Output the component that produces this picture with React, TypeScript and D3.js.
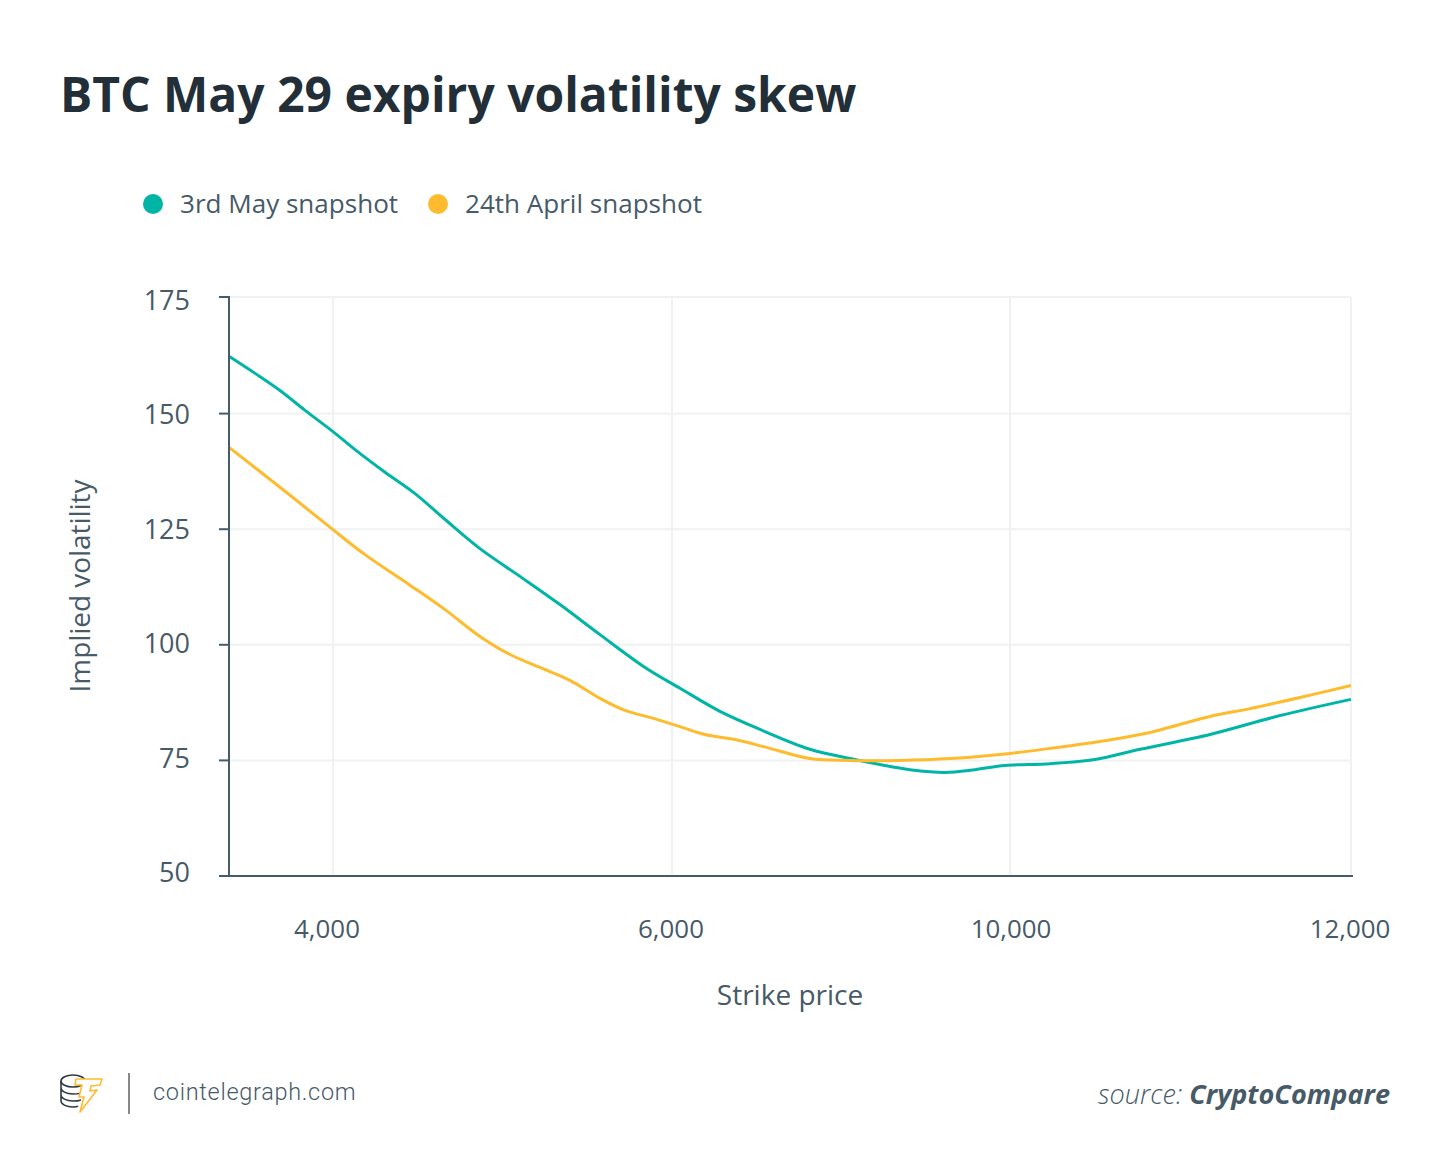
import React from "react";
import * as d3 from "d3";

const title = "BTC May 29 expiry volatility skew";
const seriesNames = ["3rd May snapshot", "24th April snapshot"];
const seriesColors = ["#00b5a6", "#fdbb2d"];
const xTicks = [4000, 6000, 10000, 12000];
const xLabelNudge = [-6, -1, 1, -1];
const yTicks = [50, 75, 100, 125, 150, 175];

const mayStrikes = [3386, 3540, 3687, 3835, 4000, 4130, 4307, 4484, 4661, 4867, 5103, 5339, 5575, 5841, 6095, 6568, 7041, 7633, 8106, 8461, 8816, 9230, 9586, 9941, 10235, 10499, 10762, 11173, 11584, 12000];
const mayValues = [162.4, 158.7, 155.0, 150.7, 146.1, 142.2, 137.3, 132.7, 127.1, 120.8, 114.8, 108.7, 102.2, 95.1, 90.6, 85.6, 81.7, 77.4, 75.4, 74.1, 73.0, 72.4, 73.0, 73.9, 74.3, 75.2, 77.4, 80.6, 84.7, 88.2];
const aprStrikes = [3386, 3540, 3717, 4000, 4189, 4454, 4661, 4867, 5044, 5221, 5398, 5575, 5723, 5870, 6095, 6390, 6745, 7159, 7633, 8106, 8698, 9290, 10000, 10235, 10528, 10792, 11173, 11408, 11701, 12000];
const aprValues = [142.7, 138.3, 133.2, 124.9, 119.5, 112.9, 107.6, 101.8, 97.9, 95.1, 92.3, 88.4, 85.8, 84.3, 82.3, 80.6, 79.5, 77.6, 75.4, 75.0, 75.0, 75.4, 76.5, 77.6, 79.1, 80.8, 84.5, 86.2, 88.6, 91.2];

const FONT = "'Open Sans', sans-serif";
const TEXT = "#475a68";
const AXIS = "#465c69";
const GRID = "#f0f1f2";

export default function App() {
  const x = d3.scaleLinear().domain([3386, 4000, 6000, 10000, 12000]).range([229, 333, 672, 1010, 1351]);
  const y = d3.scaleLinear().domain([50, 175]).range([876, 298]);
  const yLabel = d3.scaleLinear().domain([50, 175]).range([882, 310]);
  const line = d3
    .line<[number, number]>()
    .x((d) => x(d[0]))
    .y((d) => y(d[1]))
    .curve(d3.curveCatmullRom.alpha(0.5));
  const may = mayStrikes.map((s, i) => [s, mayValues[i]] as [number, number]);
  const apr = aprStrikes.map((s, i) => [s, aprValues[i]] as [number, number]);
  const xRight = x(12000);

  return (
    <svg width={1450} height={1174} style={{ position: "absolute", left: 0, top: 0, background: "#fff" }} fontFamily={FONT}>
      <text x={60} y={112} fontSize={48} fontWeight={700} fill="#232f38">{title}</text>

      <circle cx={153} cy={204} r={10} fill={seriesColors[0]} />
      <text x={180} y={213} fontSize={26.05} fill={TEXT}>{seriesNames[0]}</text>
      <circle cx={438} cy={204} r={10} fill={seriesColors[1]} />
      <text x={465} y={213} fontSize={26.05} fill={TEXT}>{seriesNames[1]}</text>

      {yTicks.filter((t) => t !== 50).map((t) => (
        <line key={t} x1={229} x2={xRight} y1={t === 175 ? 297 : y(t)} y2={t === 175 ? 297 : y(t)} stroke={GRID} strokeWidth={2} />
      ))}
      {xTicks.map((t) => (
        <line key={t} x1={x(t)} x2={x(t)} y1={297} y2={875} stroke={GRID} strokeWidth={2} />
      ))}

      <path d={line(may)!} fill="none" stroke={seriesColors[0]} strokeWidth={3} />
      <path d={line(apr)!} fill="none" stroke={seriesColors[1]} strokeWidth={3} />

      <line x1={229} x2={229} y1={296} y2={876.5} stroke={AXIS} strokeWidth={2} />
      <line x1={228} x2={1353} y1={876} y2={876} stroke={AXIS} strokeWidth={2} />
      {yTicks.map((t) => (
        <g key={t}>
          <line x1={219} x2={229} y1={t === 175 ? 297 : y(t)} y2={t === 175 ? 297 : y(t)} stroke={AXIS} strokeWidth={2} />
          <text x={190} y={yLabel(t)} textAnchor="end" fontSize={27} fill={TEXT}>{t}</text>
        </g>
      ))}
      {xTicks.map((t, i) => (
        <text key={t} x={x(t) + xLabelNudge[i]} y={938} textAnchor="middle" fontSize={25.9} fill={TEXT}>{d3.format(",")(t)}</text>
      ))}

      <text x={790} y={1005} textAnchor="middle" fontSize={28} fill={TEXT}>Strike price</text>
      <text transform="translate(90,586) rotate(-90)" textAnchor="middle" fontSize={27.9} fill={TEXT}>Implied volatility</text>

      <g fill="none" stroke="#2f3a42" strokeWidth={1.6}>
        <ellipse cx={73} cy={1081} rx={12} ry={6} fill="#fff" />
        <path d="M61 1081v7c0 3 5 6 12 6s9-1 10-2M61 1088v7c0 3 5 6 12 6s7-1 8-1M61 1095v6c0 3 5 6 12 6 2 0 4 0 5-1" />
      </g>
      <path d="M76 1079h26l-2 6-9 1-1 5 7-1-17 22 4-15h-5l3-12h-7z" fill="#fff" stroke="#fdbb2d" strokeWidth={1.6} strokeLinejoin="round" />
      <line x1={129} x2={129} y1={1073} y2={1114} stroke="#888" strokeWidth={2} />
      <text x={153} y={1100} fontFamily="Roboto, sans-serif" fontSize={23.5} fontWeight={300} letterSpacing={0.7} fill={TEXT}>cointelegraph.com</text>

      <text x={1390} y={1104} textAnchor="end" fontSize={27.1} fontStyle="italic" fill={TEXT}>
        <tspan fontWeight={300}>source: </tspan>
        <tspan fontWeight={700}>CryptoCompare</tspan>
      </text>
    </svg>
  );
}
